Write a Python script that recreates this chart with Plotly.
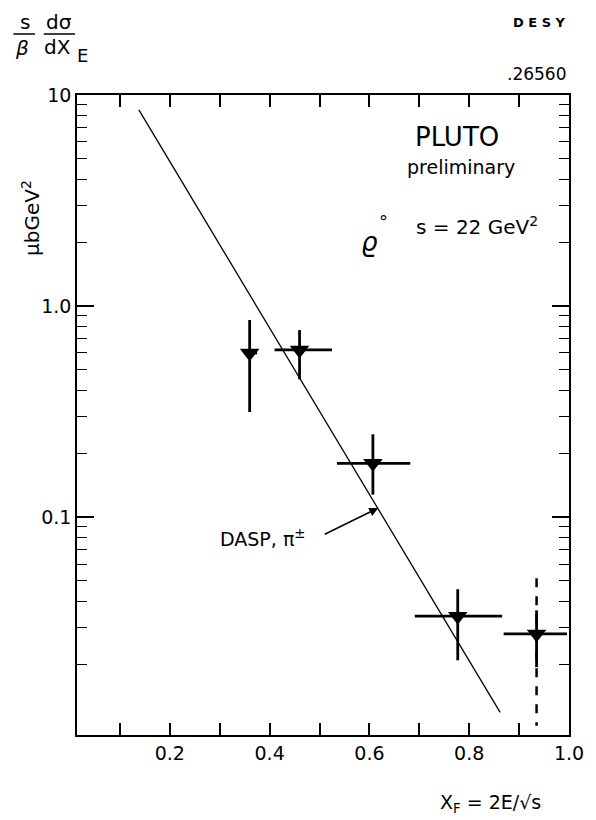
import plotly.graph_objects as go
import numpy as np

# ---- data ----
x_pts = [0.360, 0.460, 0.607, 0.777, 0.935]
y_pts = [0.60, 0.62, 0.18, 0.034, 0.028]
x_lo = [0.350, 0.410, 0.535, 0.691, 0.869]
x_hi = [0.375, 0.525, 0.682, 0.866, 0.996]
y_lo = [0.315, 0.45, 0.128, 0.021, 0.0195]
y_hi = [0.86, 0.77, 0.247, 0.0456, 0.0362]
# dashed (systematic) extension for last point
dash_x = [0.935, 0.935]
dash_y = [0.0514, 0.0103]
# DASP pi+- fit line
fit_x = [0.138, 0.862]
fit_y = [8.5, 0.0119]

y_major = [0.1, 1, 10]
y_major_text = ["0.1", "1.0", "10"]
x_major = [0.2, 0.4, 0.6, 0.8, 1.0]
x_major_text = ["0.2", "0.4", "0.6", "0.8", "1.0"]
x_minor = [0.1, 0.3, 0.5, 0.7, 0.9]

W, H = 596, 820
L, R, T, B = 77, 16, 95, 85
pw, ph = W - L - R, H - T - B


def px(x):
    return (x - L) / pw


def py(y):
    return (H - B - y) / ph


FONT = "DejaVu Sans"

fig = go.Figure()

fig.add_trace(go.Scatter(
    x=dash_x, y=dash_y, mode="lines",
    line=dict(color="black", width=2.5, dash="dash"),
    showlegend=False, hoverinfo="skip"))

fig.add_trace(go.Scatter(
    x=fit_x, y=fit_y, mode="lines",
    line=dict(color="black", width=1.3),
    showlegend=False, hoverinfo="skip"))

fig.add_trace(go.Scatter(
    x=x_pts, y=y_pts, mode="markers",
    marker=dict(symbol="triangle-down", size=17, color="black"),
    error_x=dict(type="data", symmetric=False,
                 array=[h - x for h, x in zip(x_hi, x_pts)],
                 arrayminus=[x - l for l, x in zip(x_lo, x_pts)],
                 color="black", thickness=2.8, width=0),
    error_y=dict(type="data", symmetric=False,
                 array=[h - y for h, y in zip(y_hi, y_pts)],
                 arrayminus=[y - l for l, y in zip(y_lo, y_pts)],
                 color="black", thickness=2.8, width=0),
    showlegend=False))

minor_vals = []
for d in [0.001, 0.01, 0.1, 1]:
    for k in range(2, 10):
        minor_vals.append(k * d)

ymin = 0.0093
fig.update_layout(
    width=W, height=H,
    margin=dict(l=L, r=R, t=T, b=B, pad=0),
    paper_bgcolor="white", plot_bgcolor="white",
    font=dict(family=FONT, color="black", size=19),
    xaxis=dict(range=[0.014, 1.0], tickvals=x_major, ticktext=x_major_text,
               ticks="inside", ticklen=12, tickwidth=1.5, tickcolor="black",
               showline=True, linecolor="black", linewidth=1.6, mirror="ticks",
               showgrid=False, zeroline=False,
               tickfont=dict(size=19, family=FONT),
               minor=dict(tickvals=x_minor, ticks="inside", ticklen=12,
                          tickwidth=1.5, tickcolor="black", showgrid=False)),
    yaxis=dict(type="log", range=[np.log10(ymin), 1.0],
               tickvals=y_major, ticktext=y_major_text,
               ticks="inside", ticklen=17, tickwidth=1.5, tickcolor="black",
               showline=True, linecolor="black", linewidth=1.6, mirror="ticks",
               showgrid=False, zeroline=False,
               tickfont=dict(size=19, family=FONT),
               minor=dict(tickvals=minor_vals, ticks="inside", ticklen=10,
                          tickwidth=1.3, tickcolor="black", showgrid=False)),
)

ann = []


def txt(x, y, s, size=19, **kw):
    d = dict(x=px(x), y=py(y), xref="paper", yref="paper", text=s,
             showarrow=False, xanchor="center", yanchor="middle",
             font=dict(size=size, family=FONT, color="black"))
    d.update(kw)
    ann.append(d)


# y-axis title as fraction
txt(24, 22, "s", 20)
txt(21, 48, "<i>β</i>", 20)
txt(59, 22, "dσ", 20)
txt(57, 47, "dX", 20)
txt(83, 56, "E", 18)
txt(30, 218, "μbGeV<sup>2</sup>", 20, textangle=-90)
# header
txt(550, 22, "<b>D E S Y</b>", 13)
txt(547, 74, ".26560", 17)
# inside text
txt(465, 137, "PLUTO", 26)
txt(470, 167, "preliminary", 19)
txt(376, 242, "<i>ϱ</i>", 26)
txt(390, 221, "°", 18)
txt(486, 226, "s = 22 GeV<sup>2</sup>", 20)
txt(267, 538, "DASP, π<sup>±</sup>", 19)
# x title
txt(500, 803, "X<sub>F</sub> = 2E/√s", 19)

# arrow from DASP label to fit line
ann.append(dict(x=px(385), y=py(508), xref="paper", yref="paper",
                ax=330 - 385, ay=535 - 508, axref="pixel", ayref="pixel",
                showarrow=True, arrowhead=2, arrowsize=1.2, arrowwidth=1.5,
                arrowcolor="black", text=""))

fig.update_layout(annotations=ann)

shapes = [
    dict(type="line", xref="paper", yref="paper",
         x0=px(12), x1=px(34), y0=py(34), y1=py(34),
         line=dict(color="black", width=1.5)),
    dict(type="line", xref="paper", yref="paper",
         x0=px(43), x1=px(75), y0=py(34), y1=py(34),
         line=dict(color="black", width=1.5)),
]
fig.update_layout(shapes=shapes)

fig.write_html("out.html")
